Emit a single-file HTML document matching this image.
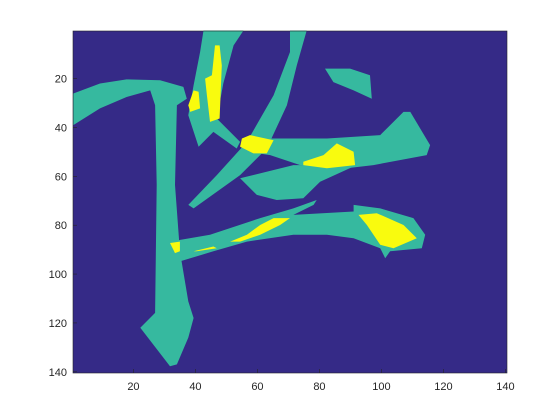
<!DOCTYPE html>
<html><head><meta charset="utf-8"><style>
body{margin:0;background:#fff;}
svg{display:block;font-family:"Liberation Sans",sans-serif;}
</style></head><body>
<svg id="chart" width="560" height="420" viewBox="0 0 560 420">
<rect x="0" y="0" width="560" height="420" fill="#fff"/>
<g id="plot"></g>
<g id="axes"></g>
</svg>
<script>
// data arrays (image-space coordinates: column, row)
const xTicks = [20,40,60,80,100,120,140];
const yTicks = [20,40,60,80,100,120,140];
const levelColors = ["#352a87","#36b99f","#f9fb0e"];
const shapeNames = ["left-stroke","upper-stroke","diagonal-stroke","dot-stroke","middle-stroke","middle-lower-stroke","lower-stroke","yellow-a","yellow-b","yellow-c","yellow-d","yellow-e","yellow-f","yellow-g","yellow-h"];
const shapeLevels = [1,1,1,1,1,1,1,2,2,2,2,2,2,2,2];
const shapeCols = [
 [0.6,9.2,17.8,28.6,36.1,37.2,34,33.4,35,37.7,39.4,37.7,34,31.8,22.2,27,27.5,27,25.4,17.8,9.2,0.6],
 [42.6,55.5,52.3,49,46.9,54.4,53.3,45.8,41,37.7,39.4,41.5],
 [70.5,75.9,72.7,69.5,63,54.4,39.4,37.7,46.9,56.6,65.2,70.5],
 [81.8,89.9,96.3,96.9,91,84.5],
 [54.4,63,82.4,99.6,107.1,109.3,115.7,114.6,97.4,88.8,73.8,64.1,56.6],
 [54.4,71.6,92,80.2,74.8,66.2,59.8],
 [31.8,44.7,60.9,71.6,79.1,78.1,71.6,91,91,99.6,110.3,114.1,113,102.8,101.2,99.6,91,82.4,71.6,56.6,45.8,35,33.4],
 [46.3,47.8,48.5,47.8,44.7,43.7,43.1,45.3],
 [39.4,41,41.5,38.3,37.7],
 [55,57.6,65.2,63,58.7,54.4],
 [74.8,81.3,85.6,91,91.5,82.4,74.8],
 [92.6,98.5,107.1,111.4,103.9,99.6,95.3],
 [51.2,56.6,60.9,65.2,70.5,67.3,60.9,54.4],
 [31.8,35,35,33.4],
 [39.4,45.8,46.9,40.4]
];
const shapeRows = [
 [26.1,22,20.3,20.7,23.4,28.2,30.9,63.5,90.7,111.2,118,126,137,137.7,122,115.9,63.5,30.9,24.8,27.5,32.2,39],
 [0.3,0.3,6.4,22,36.3,45.9,48.6,41.8,47.9,35,22.7,9.1],
 [0.3,0.3,14.6,30.9,48.6,59.5,73.1,71.7,59.5,45.9,26.8,9.1],
 [15.9,15.9,18.6,28.2,24.8,21.4],
 [47.2,44.5,44.5,43.1,33.6,33.6,47.2,51.3,55.4,56.7,55.4,51.3,49.9],
 [60.8,55.4,55.4,62.2,69,69.7,67.6],
 [86.7,83.9,77.1,73.1,69.7,71.7,75.8,74.4,71.7,73.1,77.1,83.9,89.4,90.7,93.5,89.4,85.3,83.9,83.9,86.7,90.7,94.8,90.7],
 [6.4,6.4,14.6,36.3,37.7,26.8,20,18.6],
 [24.8,25.4,32.2,33.6,30.9],
 [44.5,43.1,45.2,50.6,50.6,47.9],
 [54,51.3,46.5,49.9,55.4,56.7,55.4],
 [75.8,75.1,79.9,85.3,89.4,88,79.9],
 [86.7,83.9,79.9,77.1,77.1,79.9,83.9,86.7],
 [87.3,86.7,90.7,91.4],
 [90.7,88.7,89.4,90.7]
];
const NS="http://www.w3.org/2000/svg";
const X0=73,X1=507,Y0=31,Y1=373,D0=0.5,D1=140.5;
function sx(v){return X0+(v-D0)/(D1-D0)*(X1-X0);}
function sy(v){return Y0+(v-D0)/(D1-D0)*(Y1-Y0);}
const plot=document.getElementById('plot'), axes=document.getElementById('axes');
const bg=document.createElementNS(NS,'rect');
bg.setAttribute('x',X0);bg.setAttribute('y',Y0);bg.setAttribute('width',X1-X0);bg.setAttribute('height',Y1-Y0);bg.setAttribute('fill',levelColors[0]);


plot.appendChild(bg);
shapeCols.forEach((cols,i)=>{
  const p=document.createElementNS(NS,'polygon');
  p.setAttribute('points',cols.map((c,j)=>sx(c).toFixed(1)+','+sy(shapeRows[i][j]).toFixed(1)).join(' '));
  p.setAttribute('fill',levelColors[shapeLevels[i]]);
  
  
  plot.appendChild(p);
});
const frame=document.createElementNS(NS,'rect');
frame.setAttribute('x',X0);frame.setAttribute('y',Y0);frame.setAttribute('width',X1-X0);frame.setAttribute('height',Y1-Y0);
frame.setAttribute('fill','none');frame.setAttribute('stroke','#262626');frame.setAttribute('stroke-width','0.6');


axes.appendChild(frame);
xTicks.forEach(t=>{
  const x=sx(t);
  const l=document.createElementNS(NS,'line');
  l.setAttribute('x1',x);l.setAttribute('x2',x);l.setAttribute('y1',Y1);l.setAttribute('y2',Y1-4);l.setAttribute('stroke','#262626');l.setAttribute('stroke-width','0.6');
  
  
  axes.appendChild(l);
  const tx=document.createElementNS(NS,'text');
  tx.setAttribute('x',x);tx.setAttribute('y',Y1+17);tx.setAttribute('text-anchor','middle');tx.setAttribute('font-size','11');tx.setAttribute('fill','#262626');
  tx.textContent=t;
  
  
  axes.appendChild(tx);
});
yTicks.forEach(t=>{
  const y=sy(t);
  const l=document.createElementNS(NS,'line');
  l.setAttribute('x1',X0);l.setAttribute('x2',X0+4);l.setAttribute('y1',y);l.setAttribute('y2',y);l.setAttribute('stroke','#262626');l.setAttribute('stroke-width','0.6');
  
  
  axes.appendChild(l);
  const tx=document.createElementNS(NS,'text');
  tx.setAttribute('x',X0-6);tx.setAttribute('y',y+4);tx.setAttribute('text-anchor','end');tx.setAttribute('font-size','11');tx.setAttribute('fill','#262626');
  tx.textContent=t;
  
  
  axes.appendChild(tx);
});
</script>
</body></html>
